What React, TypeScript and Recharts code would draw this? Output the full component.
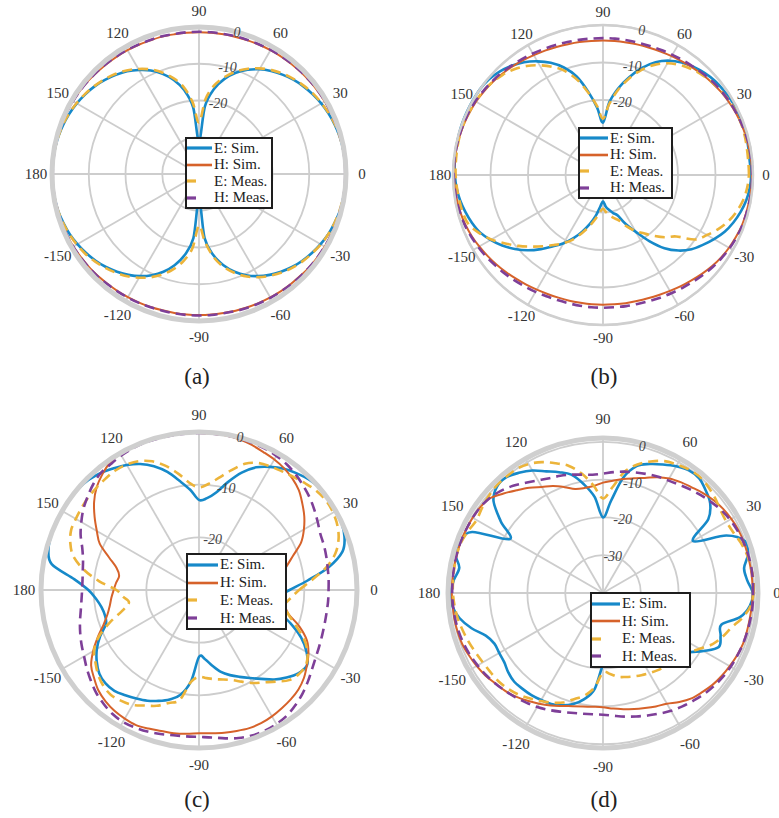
import React from "react";
import { RadarChart, Radar, PolarGrid, PolarAngleAxis, PolarRadiusAxis, Legend } from "recharts";

const FONT = 'Liberation Serif, "DejaVu Serif", Tinos, serif';

// angle (deg, counter-clockwise from 0 on the right) of every sample
const ANGLES = [
  0, 5, 10, 15, 20, 25, 30, 35, 40, 45, 50, 55,
  60, 65, 70, 75, 80, 85, 90, 95, 100, 105, 110, 115,
  120, 125, 130, 135, 140, 145, 150, 155, 160, 165, 170, 175,
  180, 185, 190, 195, 200, 205, 210, 215, 220, 225, 230, 235,
  240, 245, 250, 255, 260, 265, 270, 275, 280, 285, 290, 295,
  300, 305, 310, 315, 320, 325, 330, 335, 340, 345, 350, 355,
];
const ANGLE_TICKS = [0, 30, 60, 90, 120, 150, 180, 210, 240, 270, 300, 330];
const R_TICKS_40 = [-30, -20, -10, 0];
const R_TICKS_30 = [-20, -10, 0];

// (a) normalized gain, dB
const A_E_SIM = [
  0, -0.1, -0.2, -0.4, -0.7, -1.1, -1.6, -2.2, -2.9, -3.7, -4.7, -5.8,
  -7.1, -8.7, -10.7, -13.2, -16.5, -21.5, -31, -21.8, -16.8, -13.5, -11.0, -8.9,
  -7.3, -5.9, -4.8, -3.8, -2.9, -2.2, -1.6, -1.1, -0.7, -0.4, -0.2, -0.1,
  0, -0.1, -0.2, -0.4, -0.8, -1.2, -1.8, -2.5, -3.3, -4.2, -5.3, -6.5,
  -7.9, -9.6, -11.7, -14.3, -17.6, -22.5, -33, -22.5, -17.6, -14.3, -11.7, -9.6,
  -7.9, -6.5, -5.3, -4.2, -3.3, -2.5, -1.8, -1.2, -0.8, -0.4, -0.2, -0.1,
];
const A_H_SIM = [
  -0.1, -0.1, -0.1, -0.2, -0.3, -0.4, -0.5, -0.6, -0.7, -0.8, -0.9, -1.0,
  -1.1, -1.2, -1.3, -1.4, -1.4, -1.4, -1.4, -1.4, -1.4, -1.3, -1.3, -1.2,
  -1.1, -1.0, -0.9, -0.8, -0.6, -0.5, -0.4, -0.3, -0.2, -0.1, -0.1, -0.1,
  -0.1, -0.1, -0.1, -0.2, -0.3, -0.4, -0.5, -0.7, -0.8, -0.9, -1.1, -1.2,
  -1.3, -1.4, -1.5, -1.6, -1.6, -1.6, -1.6, -1.6, -1.6, -1.5, -1.4, -1.3,
  -1.2, -1.1, -1.0, -0.9, -0.7, -0.6, -0.5, -0.4, -0.3, -0.2, -0.1, -0.1,
];
const A_E_MEAS = [
  -0.1, -0.1, -0.2, -0.4, -0.6, -1.0, -1.5, -2.0, -2.7, -3.5, -4.4, -5.5,
  -6.8, -8.4, -10.3, -12.6, -15.4, -19.5, -26, -20.5, -16.0, -13.0, -10.6, -8.6,
  -7.0, -5.6, -4.5, -3.6, -2.8, -2.1, -1.5, -1.0, -0.6, -0.4, -0.2, -0.1,
  -0.1, -0.1, -0.2, -0.4, -0.7, -1.1, -1.6, -2.2, -3.0, -3.9, -4.9, -6.0,
  -7.4, -9.0, -10.9, -13.2, -16.0, -19.8, -26, -21.5, -17.0, -13.8, -11.3, -9.2,
  -7.6, -6.2, -5.0, -4.0, -3.1, -2.4, -1.7, -1.2, -0.8, -0.5, -0.3, -0.1,
];
const A_H_MEAS = [
  -0.2, -0.2, -0.2, -0.3, -0.3, -0.4, -0.4, -0.5, -0.6, -0.7, -0.8, -0.9,
  -1.0, -1.1, -1.2, -1.2, -1.3, -1.3, -1.3, -1.3, -1.3, -1.2, -1.2, -1.1,
  -1.0, -0.9, -0.8, -0.7, -0.6, -0.5, -0.4, -0.3, -0.3, -0.2, -0.2, -0.2,
  -0.2, -0.2, -0.2, -0.3, -0.3, -0.4, -0.5, -0.6, -0.7, -0.8, -1.0, -1.1,
  -1.2, -1.3, -1.4, -1.5, -1.5, -1.5, -1.5, -1.5, -1.5, -1.4, -1.3, -1.2,
  -1.1, -1.0, -0.9, -0.8, -0.7, -0.6, -0.5, -0.4, -0.3, -0.3, -0.2, -0.2,
];

// (b)
const B_E_SIM = [
  -0.5, -0.7, -0.6, -0.4, -0.3, -0.3, -0.4, -0.7, -1.0, -1.6, -2.4, -3.4,
  -4.8, -6.8, -9.6, -13.0, -16.5, -20.5, -26, -22, -17.5, -12.8, -9.5, -7.0,
  -5.0, -3.3, -2.0, -1.0, -0.3, 0, 0, 0, 0, -0.1, -0.2, -0.3,
  -0.5, -0.8, -1.3, -2.0, -2.8, -3.8, -5.4, -7.2, -9.3, -11.6, -14.2, -16.8,
  -19.0, -21.4, -24.0, -26.5, -29, -31.5, -33, -31.5, -30.5, -29.5, -28.5, -25.5,
  -22.5, -18.5, -14.5, -11.5, -9.2, -7.5, -5.8, -4.2, -3.0, -2.0, -1.2, -0.7,
];
const B_H_SIM = [
  -0.3, -0.3, -0.4, -0.5, -0.7, -0.9, -1.2, -1.5, -1.9, -2.3, -2.7, -3.1,
  -3.4, -3.7, -3.9, -4.0, -4.1, -4.1, -4.1, -4.1, -4.0, -3.9, -3.7, -3.4,
  -3.1, -2.7, -2.3, -1.9, -1.5, -1.2, -0.9, -0.7, -0.5, -0.4, -0.3, -0.3,
  -0.3, -0.4, -0.5, -0.7, -1.0, -1.4, -1.9, -2.4, -2.9, -3.4, -3.9, -4.3,
  -4.7, -5.0, -5.2, -5.3, -5.4, -5.4, -5.4, -5.4, -5.3, -5.2, -5.0, -4.7,
  -4.3, -3.8, -3.3, -2.7, -2.1, -1.6, -1.2, -0.9, -0.6, -0.5, -0.4, -0.3,
];
const B_E_MEAS = [
  -1.1, -1.1, -1.0, -0.8, -0.7, -0.7, -0.9, -1.3, -1.8, -2.4, -3.2, -4.2,
  -5.6, -7.6, -10.2, -13.4, -17, -21, -25, -21.5, -17.8, -13.8, -10.5, -8.2,
  -6.2, -4.5, -3.2, -2.2, -1.5, -1.0, -0.8, -0.6, -0.4, -0.4, -0.5, -0.6,
  -0.7, -0.9, -1.1, -1.3, -1.8, -3.5, -5.6, -8.2, -10.6, -13.0, -15.2, -17.2,
  -19.0, -21, -23.5, -25.8, -28, -30, -31, -30, -29, -28, -27, -24.8,
  -22.8, -21, -18.8, -16.5, -14.5, -10.0, -8.0, -6.0, -4.3, -3.0, -2.0, -1.4,
];
const B_H_MEAS = [
  -0.2, -0.2, -0.3, -0.4, -0.6, -0.8, -1.0, -1.3, -1.6, -2.0, -2.4, -2.7,
  -3.0, -3.2, -3.4, -3.5, -3.5, -3.5, -3.5, -3.5, -3.4, -3.3, -3.1, -2.9,
  -2.6, -2.3, -2.0, -1.6, -1.3, -1.0, -0.7, -0.5, -0.4, -0.3, -0.2, -0.2,
  -0.2, -0.3, -0.4, -0.6, -0.8, -1.2, -1.6, -2.0, -2.5, -2.9, -3.3, -3.7,
  -4.0, -4.3, -4.5, -4.6, -4.6, -4.6, -4.6, -4.6, -4.5, -4.4, -4.2, -3.9,
  -3.6, -3.2, -2.8, -2.3, -1.8, -1.4, -1.0, -0.7, -0.5, -0.4, -0.3, -0.2,
];

// (c)
const C_E_SIM = [
  -12.8, -9.3, -5.0, -1.8, -0.6, -0.1, 0, 0, 0, -0.4, -1.1, -1.9,
  -3.0, -4.3, -6.3, -8.8, -11.2, -12.5, -12.9, -10.9, -9.0, -6.8, -5.0, -3.6,
  -2.6, -1.8, -1.0, -0.4, -0.1, 0, 0, 0, -0.1, -0.4, -1.6, -6.2,
  -9.0, -10.4, -11.2, -11.5, -11.2, -9.3, -7.6, -6.3, -5.3, -4.9, -5.0, -5.6,
  -6.2, -6.8, -7.6, -8.5, -9.8, -12.6, -17.3, -16.8, -15.4, -13.9, -12.8, -11.8,
  -10.7, -9.4, -7.8, -6.5, -5.4, -5.0, -6.4, -8.6, -11.5, -14.5, -16.0, -15.0,
];
const C_H_SIM = [
  -14.5, -14.5, -14.0, -12.8, -11.0, -8.6, -7.0, -5.6, -4.4, -3.2, -2.4, -1.8,
  -1.4, -1.1, -0.7, -0.4, -0.2, -0.2, -0.2, -0.1, 0, 0, 0, 0,
  -0.1, -0.5, -1.4, -2.5, -4.0, -5.8, -7.6, -9.2, -11.8, -13.8, -14.6, -14.2,
  -13.8, -13.3, -12.8, -12.0, -10.7, -8.8, -6.8, -5.0, -4.0, -3.0, -2.4, -2.0,
  -1.8, -1.7, -2.0, -2.3, -2.4, -2.6, -2.8, -2.7, -2.5, -2.3, -2.1, -2.1,
  -2.3, -2.6, -2.9, -3.3, -4.0, -5.0, -6.0, -7.4, -9.7, -12.4, -13.5, -14.2,
];
const C_E_MEAS = [
  -11, -8.5, -5.5, -3.2, -1.8, -1.0, -0.6, -0.5, -0.8, -1.4, -2.0, -2.5,
  -2.9, -3.4, -4.5, -6.5, -8.4, -9.8, -10.5, -9.6, -7.6, -5.6, -4.0, -3.0,
  -2.5, -2.3, -2.4, -2.5, -2.6, -2.8, -3.0, -3.2, -4.0, -5.3, -7.8, -11.0,
  -14.3, -15.5, -16.5, -15.0, -12.0, -9.0, -7.0, -6.0, -5.0, -4.3, -4.0, -4.3,
  -4.8, -5.8, -6.6, -7.8, -8.8, -12.5, -13.5, -13.2, -12.8, -12.4, -11.8, -10.8,
  -9.6, -8.6, -7.3, -5.8, -5.2, -5.2, -6.2, -8.0, -10.5, -12.5, -13.5, -12.5,
];
const C_H_MEAS = [
  -5.4, -5.3, -5.2, -5.0, -4.8, -4.6, -4.0, -3.3, -2.6, -2.0, -1.4, -0.9,
  -0.6, -0.4, -0.3, -0.2, -0.2, -0.2, -0.2, -0.2, -0.2, -0.2, -0.2, -0.3,
  -0.5, -0.8, -1.0, -1.6, -2.4, -3.2, -4.2, -5.2, -6.4, -7.2, -7.6, -7.8,
  -7.8, -7.6, -7.2, -6.6, -6.0, -5.4, -4.8, -4.0, -3.2, -2.4, -1.8, -1.3,
  -1.1, -1.2, -1.4, -1.7, -2.0, -2.1, -2.1, -1.9, -1.4, -0.9, -0.6, -0.5,
  -0.6, -0.9, -1.5, -2.2, -3.0, -3.8, -4.4, -4.8, -5.1, -5.3, -5.4, -5.4,
];

// (d)
const D_E_SIM = [
  -0.4, -1.7, -2.1, -0.3, 0, -4.0, -12.5, -6.0, -3.0, -1.6, -0.4, -0.4,
  -1.3, -2.5, -3.7, -5.2, -9.0, -15.5, -20, -14.5, -10.8, -7.6, -6.0, -4.5,
  -2.6, -1.2, -0.1, -0.3, -2.2, -7.0, -11.5, -1.8, 0, 0.5, -1.4, -0.4,
  0.3, 0, -1.5, -4.0, -7.0, -8.3, -8.3, -8.1, -7.3, -6.8, -6.9, -7.0,
  -7.3, -7.6, -8.4, -9.6, -11.5, -14.5, -21, -22, -22, -22, -21, -20,
  -19, -18, -16, -14.5, -13, -12.5, -9.3, -6.2, -6.9, -7.6, -3.2, -1.0,
];
const D_H_SIM = [
  -0.4, -0.4, -0.4, -0.4, -0.4, -0.5, -0.8, -1.2, -1.8, -2.6, -3.5, -4.2,
  -5.0, -6.2, -7.6, -8.6, -9.4, -10.2, -10.8, -11.6, -11.8, -11.5, -10.2, -8.8,
  -7.6, -6.0, -4.5, -2.8, -1.0, -0.4, -0.2, -0.1, 0, 0, 0, 0,
  0, -0.1, -0.1, -0.2, -0.4, -0.9, -1.4, -2.0, -2.8, -3.4, -4.2, -5.2,
  -6.2, -7.2, -8.2, -9.0, -9.5, -9.8, -9.8, -9.3, -8.8, -8.2, -7.6, -6.9,
  -6.2, -4.8, -3.6, -2.9, -2.2, -1.7, -1.3, -0.9, -0.6, -0.6, -0.6, -0.5,
];
const D_E_MEAS = [
  -0.2, 0, -0.3, -0.6, -1.2, -2.0, -2.3, -2.0, -1.2, -0.5, 0, -0.2,
  -0.8, -1.5, -3.0, -4.8, -7.5, -12, -15, -11.5, -8, -5.2, -3.5, -1.8,
  -0.6, 0, 0, 0, -0.4, -0.9, -1.4, -0.8, -0.2, 0, -0.1, -0.2,
  -0.3, -0.6, -1.0, -1.6, -2.2, -2.8, -3.3, -3.6, -3.8, -4.3, -5.0, -6.0,
  -7.0, -8.0, -9.2, -11.0, -12.5, -15, -19, -18.5, -17.5, -17, -16.5, -16,
  -15.5, -15, -14.5, -14, -13.5, -12.5, -10.5, -8, -6.3, -4.8, -2.5, -0.8,
];
const D_H_MEAS = [
  -0.3, -0.2, -0.2, -0.3, -0.5, -0.8, -1.2, -1.8, -2.6, -3.4, -4.2, -5.0,
  -5.6, -6.0, -6.5, -7.0, -7.4, -7.9, -8.4, -8.6, -8.2, -7.6, -7.0, -6.5,
  -5.6, -4.4, -3.0, -1.8, -0.9, -0.4, -0.2, -0.1, 0, 0, 0, -0.1,
  -0.1, -0.2, -0.3, -0.5, -0.8, -1.2, -1.7, -2.2, -2.8, -3.4, -4.0, -4.6,
  -5.2, -5.9, -6.6, -7.2, -7.6, -7.8, -7.8, -7.4, -6.8, -6.2, -5.5, -4.8,
  -4.0, -3.4, -2.8, -2.2, -1.7, -1.3, -1.0, -0.8, -0.6, -0.5, -0.4, -0.3,
];

type Series = { key: string; name: string; color: string; width: number; dash?: string };

const SERIES: Series[] = [
  { key: "eSim", name: "E: Sim.", color: "#1689c9", width: 2.6 },
  { key: "hSim", name: "H: Sim.", color: "#d6622a", width: 2 },
  { key: "eMeas", name: "E: Meas.", color: "#ecb43a", width: 2.6, dash: "10 6" },
  { key: "hMeas", name: "H: Meas.", color: "#7e3f98", width: 2.6, dash: "10 6" },
];

type Panel = {
  tag: string;
  left: number;
  top: number;
  w: number;
  h: number;
  cx: number;
  cy: number;
  outer: number;
  domain: [number, number];
  rTicks: number[];
  hiddenLabels: number[];
  ringWidth: number;
  labelGap: number;
  legend: { left: number; top: number; w: number; h: number; sample: number };
  caption: { x: number; y: number };
  values: number[][];
};

const PANELS: Panel[] = [
  {
    tag: "(a)", left: 0, top: 0, w: 390, h: 360, cx: 199, cy: 174, outer: 147,
    domain: [-40, 0], rTicks: R_TICKS_40, hiddenLabels: [-30], ringWidth: 5, labelGap: 16,
    legend: { left: 185, top: 137, w: 88, h: 72, sample: 25 },
    caption: { x: 197, y: 377 },
    values: [A_E_SIM, A_H_SIM, A_E_MEAS, A_H_MEAS],
  },
  {
    tag: "(b)", left: 389, top: 0, w: 390, h: 360, cx: 214, cy: 175, outer: 150,
    domain: [-40, 0], rTicks: R_TICKS_40, hiddenLabels: [-30], ringWidth: 2.5, labelGap: 13,
    legend: { left: 189, top: 127, w: 95, h: 72, sample: 28 },
    caption: { x: 604, y: 377 },
    values: [B_E_SIM, B_H_SIM, B_E_MEAS, B_H_MEAS],
  },
  {
    tag: "(c)", left: 0, top: 380, w: 390, h: 400, cx: 199, cy: 210, outer: 158,
    domain: [-30, 0], rTicks: R_TICKS_30, hiddenLabels: [], ringWidth: 5, labelGap: 17,
    legend: { left: 186, top: 173, w: 101, h: 77, sample: 30 },
    caption: { x: 197, y: 800 },
    values: [C_E_SIM, C_H_SIM, C_E_MEAS, C_H_MEAS],
  },
  {
    tag: "(d)", left: 389, top: 380, w: 390, h: 400, cx: 214, cy: 213, outer: 155,
    domain: [-40, 1], rTicks: R_TICKS_40, hiddenLabels: [], ringWidth: 5, labelGap: 19,
    legend: { left: 201, top: 212, w: 101, h: 76, sample: 28 },
    caption: { x: 604, y: 800 },
    values: [D_E_SIM, D_H_SIM, D_E_MEAS, D_H_MEAS],
  },
];

function AngleTick(props: any) {
  const { x, y, payload } = props;
  const v = payload.value > 180 ? payload.value - 360 : payload.value;
  return (
    <text x={x} y={y} textAnchor="middle" dominantBaseline="central" fontSize={15} fill="#333" fontFamily={FONT}>
      {v}
    </text>
  );
}

const makeRadiusTick = (hidden: number[]) => (props: any) => {
  const { x, y, payload } = props;
  if (hidden.includes(payload.value)) return <g />;
  return (
    <text x={x} y={y} textAnchor="middle" dominantBaseline="central" fontSize={14} fontStyle="italic" fill="#444" fontFamily={FONT}>
      {payload.value}
    </text>
  );
};

// closed Catmull-Rom curve through the points recharts computed for the radar
function SmoothPattern({ points, s }: { points: { x: number; y: number }[]; s: Series }) {
  if (!points || points.length < 3) return null;
  const n = points.length;
  let d = `M${points[0].x},${points[0].y}`;
  for (let i = 0; i < n; i++) {
    const p0 = points[(i - 1 + n) % n];
    const p1 = points[i];
    const p2 = points[(i + 1) % n];
    const p3 = points[(i + 2) % n];
    const c1x = p1.x + (p2.x - p0.x) / 6;
    const c1y = p1.y + (p2.y - p0.y) / 6;
    const c2x = p2.x - (p3.x - p1.x) / 6;
    const c2y = p2.y - (p3.y - p1.y) / 6;
    d += ` C${c1x.toFixed(2)},${c1y.toFixed(2)} ${c2x.toFixed(2)},${c2y.toFixed(2)} ${p2.x.toFixed(2)},${p2.y.toFixed(2)}`;
  }
  d += " Z";
  return <path d={d} fill="none" stroke={s.color} strokeWidth={s.width} strokeDasharray={s.dash} strokeLinejoin="round" />;
}

function LegendBox({ sample, h }: { sample: number; h: number }) {
  return (
    <div
      style={{
        boxSizing: "border-box",
        height: h,
        border: "2.5px solid #1e1e1e",
        background: "#fff",
        display: "flex",
        flexDirection: "column",
        justifyContent: "space-around",
        padding: "1px 0",
        fontFamily: FONT,
        fontSize: 15,
        color: "#222",
      }}
    >
      {SERIES.map((s) => (
        <div key={s.key} style={{ display: "flex", alignItems: "center", lineHeight: 1 }}>
          <svg width={sample} height={6} style={{ flex: "none" }}>
            <line x1={0} y1={3} x2={sample} y2={3} stroke={s.color} strokeWidth={s.width + 0.6} strokeDasharray={s.dash ? "9 40" : undefined} />
          </svg>
          <span style={{ marginLeft: 2, whiteSpace: "nowrap" }}>{s.name}</span>
        </div>
      ))}
    </div>
  );
}

function PatternChart({ p }: { p: Panel }) {
  const data = ANGLES.map((angle, i) => ({
    angle,
    eSim: p.values[0][i],
    hSim: p.values[1][i],
    eMeas: p.values[2][i],
    hMeas: p.values[3][i],
  }));
  const span = p.domain[1] - p.domain[0];
  const innerRing = (p.outer * (p.rTicks[0] - p.domain[0])) / span;
  return (
    <div style={{ position: "absolute", left: p.left, top: p.top }}>
      <RadarChart
        width={p.w}
        height={p.h}
        data={data}
        cx={p.cx}
        cy={p.cy}
        outerRadius={p.outer}
        startAngle={0}
        endAngle={360}
        margin={{ top: 0, right: 0, bottom: 0, left: 0 }}
      >
        <PolarGrid gridType="circle" polarAngles={ANGLE_TICKS} innerRadius={innerRing} stroke="#cdcdcd" strokeWidth={1.8} />
        <PolarAngleAxis
          dataKey="angle"
          type="number"
          domain={[0, 360]}
          ticks={ANGLE_TICKS}
          allowDataOverflow
          tick={AngleTick}
          tickLine={false}
          tickSize={p.labelGap}
          axisLineType="circle"
          axisLine={{ stroke: "#cfcfcf", strokeWidth: p.ringWidth }}
        />
        {SERIES.map((s) => (
          <Radar
            key={s.key}
            dataKey={s.key}
            name={s.name}
            stroke={s.color}
            strokeWidth={s.width}
            strokeDasharray={s.dash}
            fill="none"
            fillOpacity={0}
            dot={false}
            isAnimationActive={false}
            shape={(props: any) => <SmoothPattern points={props.points} s={s} />}
          />
        ))}
        <PolarRadiusAxis
          angle={75}
          type="number"
          domain={p.domain}
          ticks={p.rTicks}
          allowDataOverflow
          axisLine={false}
          tick={makeRadiusTick(p.hiddenLabels)}
        />
        <Legend
          layout="horizontal"
          verticalAlign="middle"
          align="center"
          wrapperStyle={{ left: p.legend.left, top: p.legend.top, width: p.legend.w, height: p.legend.h }}
          content={() => <LegendBox sample={p.legend.sample} h={p.legend.h} />}
        />
      </RadarChart>
    </div>
  );
}

export default function App() {
  return (
    <div style={{ position: "absolute", left: 0, top: 0, width: 779, height: 818, background: "#fff", overflow: "hidden" }}>
      {PANELS.map((p) => (
        <React.Fragment key={p.tag}>
          <PatternChart p={p} />
          <div
            style={{
              position: "absolute",
              left: p.caption.x - 30,
              top: p.caption.y - 14,
              width: 60,
              textAlign: "center",
              fontFamily: FONT,
              fontSize: 23,
              lineHeight: "28px",
              color: "#222",
            }}
          >
            {p.tag}
          </div>
        </React.Fragment>
      ))}
    </div>
  );
}
